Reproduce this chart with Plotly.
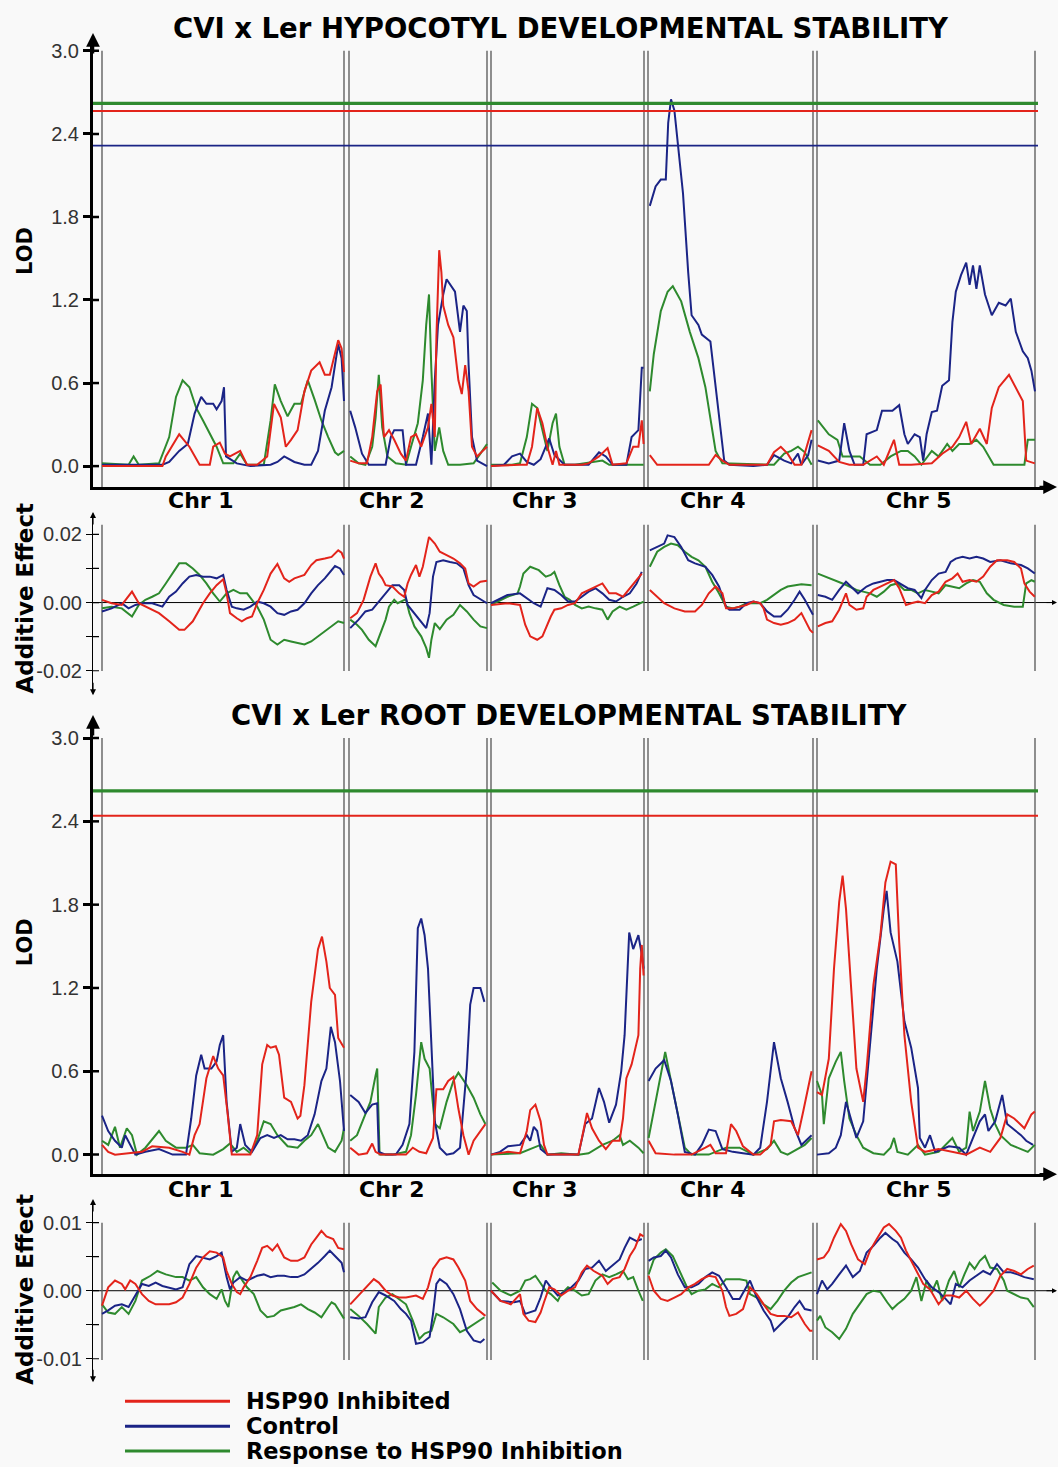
import plotly.graph_objects as go

W, H = 1058, 1467

# ---------------- chromosome map (cM along concatenated genome) ----------------
CHR_NAMES = ["Chr 1", "Chr 2", "Chr 3", "Chr 4", "Chr 5"]
CHR_START = [0.0, 123.5, 194.5, 273.0, 357.5]
CHR_END = [121.0, 192.5, 271.0, 355.5, 466.5]
CHR_LABEL_AT = [49.5, 145.0, 221.5, 305.5, 408.5]

SERIES_NAMES = ["HSP90 Inhibited", "Control", "Response to HSP90 Inhibition"]
COLORS = ["#e3241b", "#1b2486", "#2e8a2e"]

HYP_THRESHOLDS = [2.565, 2.315, 2.62]     # inhibited, control, response
ROOT_THRESHOLDS = [2.44, None, 2.62]

# ---------------- HYPOCOTYL LOD ----------------
HYP_LOD_INH = [
    [(0, 0.0), (30.2, 0.0), (31.9, 0.07), (38.6, 0.23), (43.7, 0.14), (48.8, 0.01), (53.9, 0.01), (55.6, 0.14),
     (58.9, 0.17), (61.5, 0.09), (64.0, 0.07), (69.1, 0.11), (72.5, 0.01), (77.6, 0.01), (82.6, 0.07), (86.0, 0.45),
     (89.4, 0.35), (91.9, 0.14), (94.5, 0.19), (97.8, 0.26), (101.2, 0.54), (104.6, 0.69), (108.8, 0.75),
     (111.4, 0.66), (113.9, 0.66), (116.5, 0.83), (118.1, 0.91), (119.8, 0.85), (121.0, 0.68)],
    [(124.1, 0.04), (128.3, 0.02), (132.5, 0.02), (135.1, 0.21), (137.6, 0.54), (139.3, 0.59), (141.0, 0.21),
     (143.5, 0.26), (146.1, 0.19), (149.4, 0.09), (152.0, 0.04), (154.5, 0.21), (157.0, 0.23), (159.6, 0.14),
     (163.0, 0.28), (164.7, 0.45), (166.4, 0.21), (167.2, 0.93), (168.6, 1.56), (169.7, 1.40), (170.6, 1.16),
     (173.1, 1.02), (175.7, 0.93), (178.2, 0.62), (179.9, 0.52), (181.6, 0.73), (183.3, 0.54), (185.0, 0.14),
     (187.5, 0.07), (192.5, 0.14)],
    [(194.5, 0.0), (205.0, 0.01), (209.0, 0.01), (212.4, 0.01), (215.0, 0.14), (217.6, 0.42), (220.2, 0.31),
     (222.7, 0.14), (225.3, 0.01), (227.0, 0.11), (228.7, 0.01), (240.0, 0.01), (243.3, 0.02), (248.5, 0.07),
     (252.8, 0.13), (255.3, 0.01), (262.2, 0.02), (265.6, 0.14), (268.2, 0.14), (269.9, 0.33), (270.8, 0.16)],
    [(273.9, 0.08), (277.6, 0.01), (294.8, 0.01), (303.4, 0.01), (306.8, 0.08), (310.2, 0.04), (313.7, 0.01),
     (332.5, 0.01), (336.0, 0.10), (339.4, 0.14), (342.8, 0.09), (346.3, 0.01), (349.7, 0.01), (353.1, 0.19),
     (354.8, 0.26)],
    [(357.9, 0.15), (363.4, 0.11), (368.6, 0.03), (373.7, 0.01), (380.6, 0.01), (387.4, 0.07), (390.9, 0.01),
     (396.0, 0.19), (398.6, 0.01), (404.6, 0.01), (414.9, 0.02), (420.1, 0.09), (425.2, 0.14), (428.6, 0.21),
     (432.1, 0.32), (434.6, 0.16), (438.9, 0.27), (442.4, 0.16), (444.9, 0.42), (448.4, 0.57), (453.5, 0.66),
     (456.9, 0.57), (460.4, 0.47), (462.1, 0.04), (466.4, 0.02)],
]
HYP_LOD_CTL = [
    [(0, 0.01), (30.2, 0.01), (33.6, 0.03), (38.6, 0.11), (42.9, 0.16), (46.3, 0.38), (49.6, 0.50), (52.2, 0.45),
     (55.6, 0.45), (57.3, 0.41), (59.8, 0.47), (61.0, 0.57), (62.0, 0.07), (67.4, 0.02), (74.2, 0.0), (84.3, 0.01),
     (87.7, 0.03), (91.1, 0.07), (96.2, 0.03), (101.2, 0.01), (104.6, 0.01), (108.0, 0.11), (111.4, 0.40),
     (114.8, 0.57), (116.5, 0.73), (118.1, 0.88), (119.8, 0.78), (121.0, 0.47)],
    [(124.1, 0.40), (126.6, 0.28), (130.0, 0.09), (133.4, 0.01), (141.8, 0.01), (144.4, 0.21), (146.1, 0.26),
     (150.3, 0.26), (152.0, 0.01), (157.0, 0.01), (160.4, 0.21), (163.0, 0.38), (164.7, 0.01), (166.4, 0.62),
     (168.0, 1.02), (170.6, 1.24), (172.3, 1.35), (176.5, 1.26), (179.0, 0.97), (180.7, 1.16), (182.4, 1.12),
     (183.3, 0.73), (185.0, 0.21), (187.5, 0.04), (192.5, 0.0)],
    [(194.5, 0.0), (201.0, 0.01), (205.0, 0.07), (209.0, 0.09), (212.4, 0.03), (215.9, 0.01), (219.3, 0.05),
     (223.6, 0.20), (226.2, 0.08), (231.3, 0.01), (243.3, 0.01), (248.5, 0.10), (251.9, 0.07), (255.3, 0.01),
     (262.2, 0.01), (264.8, 0.21), (268.2, 0.26), (269.9, 0.71), (270.8, 0.71)],
    [(273.9, 1.88), (276.8, 2.02), (279.4, 2.07), (281.9, 2.07), (283.1, 2.48), (284.5, 2.65), (286.2, 2.57),
     (287.9, 2.31), (290.5, 1.97), (293.1, 1.40), (294.8, 1.09), (298.2, 1.02), (299.9, 0.95), (304.2, 0.90),
     (305.9, 0.69), (308.5, 0.33), (311.1, 0.04), (313.7, 0.01), (325.7, 0.0), (332.5, 0.01), (336.0, 0.08),
     (341.1, 0.04), (344.6, 0.02), (348.0, 0.09), (349.7, 0.01), (353.1, 0.08), (354.8, 0.19)],
    [(357.9, 0.04), (363.4, 0.02), (368.6, 0.04), (371.1, 0.31), (373.7, 0.11), (376.3, 0.01), (380.6, 0.01),
     (382.3, 0.23), (387.4, 0.26), (390.0, 0.40), (395.2, 0.40), (398.6, 0.44), (401.2, 0.23), (402.9, 0.16),
     (406.3, 0.23), (408.9, 0.21), (410.6, 0.04), (412.3, 0.23), (414.9, 0.39), (417.5, 0.40), (420.1, 0.58),
     (423.5, 0.62), (425.2, 1.04), (426.9, 1.26), (429.5, 1.38), (432.1, 1.47), (433.8, 1.31), (435.5, 1.45),
     (437.2, 1.28), (438.9, 1.45), (441.5, 1.24), (444.9, 1.09), (448.4, 1.18), (451.8, 1.16), (454.4, 1.21),
     (456.9, 0.97), (460.4, 0.83), (462.9, 0.78), (464.7, 0.69), (466.5, 0.54)],
]
HYP_LOD_RESP = [
    [(0, 0.02), (13.3, 0.01), (15.8, 0.07), (18.4, 0.01), (28.5, 0.02), (33.6, 0.21), (37.0, 0.50), (40.3, 0.62),
     (43.7, 0.57), (47.1, 0.42), (50.5, 0.33), (53.9, 0.23), (57.3, 0.14), (60.6, 0.02), (65.7, 0.02), (69.1, 0.09),
     (72.5, 0.01), (80.9, 0.01), (84.3, 0.33), (86.4, 0.59), (89.4, 0.47), (92.8, 0.36), (96.2, 0.45), (99.5, 0.45),
     (102.9, 0.62), (106.3, 0.48), (109.7, 0.33), (113.1, 0.21), (116.5, 0.10), (118.1, 0.08), (121.0, 0.11)],
    [(124.1, 0.07), (128.3, 0.02), (131.7, 0.01), (135.1, 0.14), (136.8, 0.35), (138.4, 0.66), (140.1, 0.28),
     (142.7, 0.07), (146.9, 0.02), (152.0, 0.01), (154.5, 0.14), (157.9, 0.31), (160.4, 0.62), (162.1, 1.02),
     (163.5, 1.24), (164.7, 0.69), (166.4, 0.11), (168.6, 0.28), (170.6, 0.11), (173.1, 0.01), (179.0, 0.01),
     (185.8, 0.02), (189.2, 0.09), (192.5, 0.16)],
    [(194.5, 0.01), (205.0, 0.01), (209.0, 0.02), (212.4, 0.21), (215.0, 0.45), (217.6, 0.42), (220.2, 0.26),
     (222.7, 0.11), (225.3, 0.31), (227.0, 0.38), (228.7, 0.14), (231.3, 0.01), (236.5, 0.01), (250.2, 0.04),
     (253.6, 0.01), (270.8, 0.01)],
    [(273.9, 0.54), (275.9, 0.81), (279.4, 1.12), (282.8, 1.26), (285.4, 1.30), (289.6, 1.19), (293.9, 0.97),
     (298.2, 0.78), (301.7, 0.57), (304.2, 0.33), (306.8, 0.11), (310.2, 0.02), (329.1, 0.01), (336.0, 0.01),
     (341.1, 0.09), (344.6, 0.11), (348.0, 0.14), (351.4, 0.10), (354.8, 0.01)],
    [(357.9, 0.33), (363.4, 0.23), (367.7, 0.19), (370.3, 0.07), (375.4, 0.07), (378.9, 0.07), (384.0, 0.01),
     (389.2, 0.01), (394.3, 0.07), (399.5, 0.11), (402.9, 0.11), (406.3, 0.07), (409.7, 0.01), (414.9, 0.11),
     (418.3, 0.07), (422.6, 0.16), (425.2, 0.11), (428.6, 0.16), (433.8, 0.16), (437.2, 0.19), (440.6, 0.14),
     (445.8, 0.01), (452.6, 0.01), (461.2, 0.01), (462.9, 0.19), (466.5, 0.19)],
]

# ---------------- HYPOCOTYL ADDITIVE EFFECT ----------------
HYP_ADD_INH = [
    [(0, 0.0008), (4.8, -0.0002), (9.9, -0.0007), (15.0, 0.0032), (18.4, -0.0002), (23.4, -0.0017), (28.5, -0.0031),
     (33.6, -0.0055), (38.6, -0.0080), (41.2, -0.0080), (45.4, -0.0055), (50.5, -0.0002), (53.9, 0.0027),
     (57.3, 0.0051), (60.6, 0.0068), (62.3, 0.0027), (64.0, -0.0031), (67.4, -0.0046), (69.9, -0.0055),
     (72.5, -0.0046), (75.0, -0.0041), (77.6, -0.0002), (80.9, 0.0037), (84.3, 0.0085), (87.7, 0.0113),
     (91.1, 0.0071), (93.6, 0.0061), (96.2, 0.0071), (101.2, 0.0081), (104.6, 0.0110), (107.2, 0.0124),
     (111.4, 0.0129), (114.8, 0.0134), (118.1, 0.0153), (119.8, 0.0146), (121.0, 0.0129)],
    [(124.1, -0.0046), (127.5, -0.0031), (130.8, 0.0008), (134.2, 0.0076), (136.8, 0.0115), (138.4, 0.0085),
     (140.1, 0.0071), (141.8, 0.0051), (145.2, 0.0047), (148.6, 0.0027), (151.1, 0.0017), (152.8, 0.0056),
     (154.5, 0.0081), (157.0, 0.0110), (158.7, 0.0076), (160.4, 0.0105), (162.1, 0.0153), (163.5, 0.0192),
     (166.4, 0.0173), (168.9, 0.0149), (172.3, 0.0139), (175.7, 0.0129), (179.0, 0.0115), (181.6, 0.0100),
     (183.3, 0.0056), (185.8, 0.0047), (189.2, 0.0061), (192.5, 0.0064)],
    [(194.5, -0.0007), (202.7, -0.0002), (209.0, -0.0007), (211.6, -0.0065), (214.1, -0.0099), (217.6, -0.0109),
     (220.2, -0.0099), (221.9, -0.0075), (224.4, -0.0041), (226.2, -0.0021), (229.6, -0.0017), (233.0, -0.0007),
     (236.5, -0.0002), (239.9, 0.0027), (243.3, 0.0037), (246.7, 0.0047), (250.2, 0.0056), (253.6, 0.0027),
     (257.0, 0.0027), (260.5, 0.0017), (263.9, 0.0041), (267.3, 0.0066), (269.9, 0.0085)],
    [(273.9, 0.0037), (277.6, 0.0017), (281.1, -0.0002), (286.2, -0.0017), (291.4, -0.0026), (296.5, -0.0026),
     (299.9, -0.0007), (303.4, 0.0027), (306.8, 0.0047), (310.2, 0.0027), (312.0, -0.0017), (315.4, -0.0017),
     (318.8, -0.0012), (322.2, -0.0007), (325.7, 0.0003), (329.1, -0.0002), (330.8, -0.0017), (332.5, -0.0050),
     (336.0, -0.0060), (339.4, -0.0065), (342.8, -0.0060), (346.3, -0.0050), (349.7, -0.0031), (351.4, -0.0050),
     (354.0, -0.0080), (355.5, -0.0089)],
    [(357.9, -0.0070), (361.7, -0.0060), (365.1, -0.0055), (368.6, -0.0021), (372.0, 0.0027), (373.7, -0.0007),
     (377.2, -0.0021), (380.6, -0.0017), (382.3, 0.0017), (385.7, 0.0037), (389.2, 0.0047), (392.6, 0.0056),
     (396.0, 0.0066), (398.6, 0.0042), (402.0, -0.0007), (404.6, -0.0002), (408.0, 0.0003), (411.5, -0.0002),
     (414.9, 0.0022), (418.3, 0.0032), (421.8, 0.0061), (425.2, 0.0071), (427.8, 0.0085), (430.3, 0.0061),
     (433.8, 0.0066), (437.2, 0.0061), (440.6, 0.0076), (444.1, 0.0105), (447.5, 0.0124), (452.6, 0.0124),
     (456.1, 0.0119), (459.5, 0.0100), (461.2, 0.0056), (463.8, 0.0032), (466.4, 0.0017)],
]
HYP_ADD_CTL = [
    [(0, -0.0026), (4.8, -0.0017), (9.9, -0.0002), (13.3, -0.0017), (16.7, -0.0007), (20.0, -0.0002),
     (25.1, -0.0002), (30.2, -0.0012), (33.6, 0.0017), (37.0, 0.0032), (40.3, 0.0056), (43.7, 0.0076),
     (47.1, 0.0081), (50.5, 0.0076), (53.9, 0.0076), (57.3, 0.0071), (60.6, 0.0081), (62.3, 0.0037),
     (64.9, -0.0012), (67.4, -0.0017), (70.8, -0.0021), (74.2, -0.0012), (77.6, 0.0003), (80.9, -0.0002),
     (84.3, -0.0012), (87.7, -0.0031), (91.1, -0.0036), (94.5, -0.0026), (97.8, -0.0021), (101.2, -0.0002),
     (104.6, 0.0027), (108.0, 0.0051), (111.4, 0.0071), (114.8, 0.0095), (116.5, 0.0107), (119.0, 0.0100),
     (121.0, 0.0081)],
    [(124.1, -0.0075), (128.3, -0.0050), (131.7, -0.0026), (135.1, -0.0021), (138.4, 0.0003), (141.8, 0.0027),
     (145.2, 0.0051), (148.6, 0.0051), (151.1, 0.0037), (152.8, -0.0007), (155.4, -0.0026), (159.6, -0.0060),
     (162.1, -0.0075), (163.8, -0.0031), (165.5, 0.0076), (167.2, 0.0119), (170.6, 0.0124), (174.0, 0.0119),
     (177.4, 0.0115), (180.7, 0.0100), (183.3, 0.0051), (185.8, 0.0022), (189.2, 0.0010), (192.5, -0.0002)],
    [(194.5, -0.0002), (202.7, 0.0022), (209.0, 0.0027), (212.4, 0.0012), (215.9, -0.0002), (219.3, -0.0012),
     (222.7, 0.0042), (226.2, 0.0037), (229.6, 0.0022), (233.0, 0.0003), (236.5, 0.0003), (239.9, 0.0017),
     (243.3, 0.0032), (246.7, 0.0042), (250.2, 0.0027), (253.6, 0.0008), (257.0, 0.0003), (260.5, 0.0017),
     (263.9, 0.0027), (267.3, 0.0056), (269.9, 0.0090)],
    [(273.9, 0.0153), (277.6, 0.0163), (281.1, 0.0173), (282.8, 0.0197), (286.2, 0.0192), (289.6, 0.0163),
     (293.1, 0.0124), (296.5, 0.0115), (301.7, 0.0105), (305.1, 0.0081), (308.5, 0.0047), (312.0, -0.0012),
     (313.7, -0.0021), (318.8, -0.0021), (322.2, -0.0002), (325.7, 0.0003), (329.1, -0.0002), (332.5, -0.0026),
     (336.0, -0.0041), (339.4, -0.0041), (342.8, -0.0021), (346.3, 0.0008), (348.8, 0.0032), (351.4, 0.0008),
     (354.8, -0.0026), (355.5, -0.0036)],
    [(357.9, 0.0022), (361.7, 0.0017), (365.1, 0.0008), (368.6, 0.0037), (372.0, 0.0061), (374.6, 0.0047),
     (378.0, 0.0027), (382.3, 0.0047), (385.7, 0.0056), (389.2, 0.0061), (392.6, 0.0066), (396.0, 0.0066),
     (398.6, 0.0056), (402.9, 0.0042), (406.3, 0.0037), (409.7, 0.0013), (411.5, 0.0037), (414.9, 0.0066),
     (418.3, 0.0085), (421.8, 0.0090), (424.3, 0.0119), (426.9, 0.0129), (430.3, 0.0134), (433.8, 0.0129),
     (437.2, 0.0134), (440.6, 0.0129), (444.1, 0.0119), (449.2, 0.0124), (454.4, 0.0115), (459.5, 0.0110),
     (462.9, 0.0100), (466.4, 0.0085)],
]
HYP_ADD_RESP = [
    [(0, -0.0017), (4.8, -0.0012), (9.9, -0.0017), (15.0, -0.0041), (18.4, -0.0007), (21.7, 0.0008),
     (25.1, 0.0017), (28.5, 0.0027), (31.9, 0.0056), (35.3, 0.0085), (38.6, 0.0115), (42.0, 0.0115),
     (45.4, 0.0100), (48.8, 0.0081), (52.2, 0.0056), (55.6, 0.0027), (58.9, 0.0003), (62.3, 0.0027),
     (65.7, 0.0037), (69.1, 0.0027), (72.5, 0.0027), (75.0, 0.0008), (77.6, -0.0012), (80.9, -0.0050),
     (84.3, -0.0109), (87.7, -0.0123), (91.1, -0.0109), (94.5, -0.0114), (97.8, -0.0118), (101.2, -0.0123),
     (104.6, -0.0114), (108.0, -0.0099), (111.4, -0.0084), (114.8, -0.0070), (118.1, -0.0055), (121.0, -0.0060)],
    [(124.1, -0.0050), (127.5, -0.0065), (130.0, -0.0080), (133.4, -0.0109), (136.8, -0.0128), (139.3, -0.0089),
     (141.8, -0.0050), (143.5, -0.0012), (146.1, 0.0008), (147.8, -0.0002), (149.4, 0.0003), (152.0, 0.0010),
     (153.7, -0.0031), (156.2, -0.0070), (159.6, -0.0099), (162.1, -0.0133), (163.5, -0.0162), (164.7, -0.0109),
     (166.4, -0.0060), (168.9, -0.0078), (172.3, -0.0050), (175.7, -0.0036), (179.0, -0.0007), (182.4, -0.0026),
     (185.8, -0.0050), (189.2, -0.0070), (192.5, -0.0075)],
    [(194.5, -0.0007), (199.3, 0.0008), (202.7, 0.0017), (207.8, 0.0027), (209.0, 0.0047), (210.7, 0.0085),
     (214.1, 0.0105), (218.4, 0.0095), (221.9, 0.0076), (224.4, 0.0081), (226.2, 0.0090), (228.7, 0.0051),
     (231.3, 0.0017), (233.9, 0.0008), (236.5, -0.0007), (239.9, -0.0017), (243.3, -0.0012), (246.7, -0.0017),
     (250.2, -0.0021), (252.8, -0.0050), (255.3, -0.0026), (258.8, -0.0012), (262.2, -0.0021), (265.6, -0.0012),
     (270.8, 0.0003)],
    [(273.9, 0.0105), (277.6, 0.0149), (281.1, 0.0163), (284.5, 0.0173), (287.9, 0.0168), (291.4, 0.0149),
     (294.8, 0.0134), (298.2, 0.0124), (301.7, 0.0105), (305.1, 0.0061), (308.5, 0.0027), (312.0, -0.0012),
     (315.4, -0.0017), (318.8, -0.0012), (322.2, -0.0002), (325.7, -0.0002), (329.1, -0.0002), (332.5, 0.0008),
     (336.0, 0.0022), (339.4, 0.0037), (342.8, 0.0047), (346.3, 0.0051), (349.7, 0.0054), (354.8, 0.0051)],
    [(357.9, 0.0085), (361.7, 0.0076), (366.9, 0.0066), (370.3, 0.0056), (373.7, 0.0047), (377.2, 0.0037),
     (380.6, 0.0032), (384.0, 0.0027), (387.4, 0.0017), (390.9, 0.0032), (394.3, 0.0051), (397.7, 0.0056),
     (401.2, 0.0037), (404.6, 0.0037), (408.0, 0.0027), (411.5, 0.0037), (414.9, 0.0032), (418.3, 0.0027),
     (421.8, 0.0051), (425.2, 0.0047), (428.6, 0.0042), (432.1, 0.0056), (435.5, 0.0066), (438.9, 0.0061),
     (442.4, 0.0027), (445.8, 0.0008), (450.9, -0.0007), (456.1, -0.0012), (460.4, -0.0012), (462.1, 0.0056),
     (464.7, 0.0066), (466.4, 0.0061)],
]

# ---------------- ROOT LOD ----------------
ROOT_LOD_INH = [
    [(0, 0.07), (3.1, 0.02), (6.5, 0.0), (13.3, 0.01), (20.0, 0.02), (25.1, 0.06), (33.6, 0.05), (40.3, 0.02),
     (43.7, 0.0), (46.3, 0.14), (48.8, 0.22), (52.2, 0.55), (55.6, 0.71), (58.1, 0.62), (60.6, 0.57), (62.7, 0.31),
     (64.9, 0.0), (74.2, 0.0), (77.6, 0.14), (80.1, 0.65), (82.6, 0.79), (84.3, 0.77), (86.9, 0.78), (88.5, 0.72),
     (91.1, 0.41), (94.5, 0.38), (97.8, 0.26), (99.2, 0.28), (101.2, 0.50), (104.6, 1.10), (108.0, 1.48),
     (110.0, 1.57), (112.2, 1.39), (113.9, 1.20), (116.5, 1.15), (118.1, 0.84), (121.0, 0.77)],
    [(124.1, 0.05), (128.3, 0.0), (132.5, 0.01), (135.1, 0.08), (136.8, 0.02), (139.3, 0.0), (152.0, 0.0),
     (155.4, 0.05), (158.7, 0.02), (162.1, 0.01), (165.5, 0.12), (167.2, 0.47), (170.6, 0.47), (173.1, 0.53),
     (175.7, 0.56), (178.2, 0.33), (180.7, 0.14), (183.3, 0.0), (185.8, 0.10), (189.2, 0.17), (191.7, 0.22)],
    [(194.5, 0.0), (203.0, 0.02), (209.0, 0.01), (212.4, 0.17), (214.1, 0.32), (216.7, 0.36), (219.3, 0.24),
     (221.0, 0.07), (222.7, 0.0), (238.2, 0.0), (240.7, 0.17), (242.5, 0.30), (245.0, 0.19), (248.5, 0.10),
     (251.9, 0.04), (255.3, 0.10), (258.8, 0.10), (260.5, 0.26), (262.2, 0.55), (264.8, 0.65), (268.2, 0.86),
     (269.1, 1.34), (269.9, 1.51), (270.8, 1.29)],
    [(273.3, 0.10), (276.8, 0.01), (286.2, 0.0), (294.8, 0.0), (301.7, 0.05), (304.2, 0.07), (306.8, 0.01),
     (312.0, 0.01), (314.5, 0.22), (317.1, 0.17), (320.5, 0.06), (325.7, 0.0), (329.1, 0.0), (334.3, 0.07),
     (336.0, 0.24), (339.4, 0.25), (344.6, 0.24), (348.0, 0.14), (350.6, 0.31), (353.1, 0.48), (354.8, 0.60)],
    [(357.5, 0.45), (360.0, 0.43), (363.4, 0.69), (366.0, 1.34), (368.6, 1.82), (370.3, 2.01), (372.0, 1.77),
     (374.6, 1.20), (377.2, 0.62), (380.6, 0.38), (382.3, 0.62), (385.7, 1.22), (389.2, 1.58), (391.7, 1.96),
     (394.3, 2.11), (396.9, 2.09), (398.6, 1.53), (401.2, 0.86), (404.6, 0.38), (408.0, 0.05), (411.5, 0.02),
     (418.3, 0.04), (425.2, 0.02), (432.1, 0.0), (438.9, 0.05), (444.1, 0.02), (449.2, 0.12), (452.6, 0.29),
     (456.1, 0.26), (461.2, 0.19), (464.7, 0.29), (466.4, 0.31)],
]
ROOT_LOD_CTL = [
    [(0, 0.28), (3.1, 0.17), (6.5, 0.10), (9.9, 0.05), (11.6, 0.14), (14.1, 0.07), (16.7, 0.0), (21.7, 0.02),
     (28.5, 0.04), (35.3, 0.0), (42.0, 0.0), (44.6, 0.26), (47.1, 0.57), (49.6, 0.72), (51.3, 0.62), (54.7, 0.62),
     (57.3, 0.67), (58.9, 0.79), (60.6, 0.86), (62.3, 0.38), (64.9, 0.02), (67.4, 0.05), (69.1, 0.22), (71.6, 0.07),
     (75.0, 0.02), (79.2, 0.12), (82.6, 0.14), (86.0, 0.12), (89.4, 0.14), (92.8, 0.11), (96.2, 0.11), (99.5, 0.10),
     (102.9, 0.14), (106.3, 0.29), (109.7, 0.53), (112.2, 0.62), (114.4, 0.92), (116.5, 0.81), (119.0, 0.53),
     (121.0, 0.17)],
    [(124.1, 0.43), (128.3, 0.38), (131.7, 0.30), (135.1, 0.36), (137.6, 0.37), (138.4, 0.02), (141.8, 0.0),
     (146.9, 0.0), (150.3, 0.07), (153.7, 0.22), (156.2, 0.74), (157.9, 1.63), (159.6, 1.70), (161.3, 1.58),
     (163.0, 1.34), (164.7, 0.77), (166.4, 0.24), (168.9, 0.05), (172.3, 0.0), (175.7, 0.01), (179.0, 0.05),
     (182.4, 0.62), (184.1, 1.08), (185.8, 1.20), (189.2, 1.20), (191.2, 1.10)],
    [(194.5, 0.0), (199.0, 0.02), (203.0, 0.06), (209.0, 0.07), (212.4, 0.14), (214.1, 0.10), (215.9, 0.20),
     (217.6, 0.17), (219.3, 0.04), (222.7, 0.0), (238.2, 0.0), (241.6, 0.22), (245.0, 0.26), (248.5, 0.48),
     (251.0, 0.38), (253.6, 0.23), (257.0, 0.36), (259.6, 0.60), (261.3, 0.86), (263.6, 1.60), (265.6, 1.48),
     (268.2, 1.58), (269.9, 1.44), (270.8, 1.34)],
    [(273.3, 0.53), (276.8, 0.62), (281.1, 0.68), (284.5, 0.53), (287.9, 0.29), (291.4, 0.02), (296.5, 0.0),
     (299.9, 0.07), (303.4, 0.18), (306.8, 0.17), (310.2, 0.04), (315.4, 0.02), (320.5, 0.01), (325.7, 0.0),
     (329.1, 0.05), (332.5, 0.38), (336.0, 0.81), (339.4, 0.55), (342.8, 0.38), (346.3, 0.19), (349.7, 0.07),
     (353.1, 0.12), (354.8, 0.14)],
    [(357.5, 0.0), (363.4, 0.01), (366.9, 0.05), (369.4, 0.14), (372.0, 0.38), (374.6, 0.24), (377.2, 0.12),
     (380.6, 0.24), (384.0, 0.81), (387.4, 1.34), (390.9, 1.77), (392.3, 1.90), (394.3, 1.60), (397.7, 1.39),
     (401.2, 0.96), (404.6, 0.77), (408.0, 0.48), (408.9, 0.12), (411.5, 0.05), (414.0, 0.14), (416.6, 0.02),
     (423.5, 0.06), (428.6, 0.05), (432.1, 0.0), (435.5, 0.12), (438.9, 0.24), (441.5, 0.29), (443.2, 0.17),
     (446.6, 0.24), (450.1, 0.43), (452.6, 0.22), (456.1, 0.18), (459.5, 0.14), (462.1, 0.10), (465.5, 0.07)],
]
ROOT_LOD_RESP = [
    [(0, 0.10), (3.1, 0.07), (6.5, 0.20), (9.0, 0.05), (12.4, 0.19), (15.0, 0.14), (17.5, 0.0), (21.7, 0.05),
     (28.5, 0.17), (31.9, 0.10), (37.0, 0.05), (42.0, 0.05), (45.4, 0.07), (48.8, 0.01), (55.6, 0.0), (60.6, 0.04),
     (64.0, 0.08), (67.4, 0.02), (70.8, 0.05), (74.2, 0.01), (77.6, 0.10), (80.9, 0.24), (84.3, 0.22), (87.7, 0.14),
     (92.8, 0.06), (97.8, 0.05), (101.2, 0.10), (104.6, 0.14), (108.0, 0.22), (110.5, 0.14), (113.1, 0.05),
     (116.5, 0.02), (119.8, 0.10), (121.0, 0.19)],
    [(124.1, 0.10), (127.5, 0.14), (130.8, 0.26), (134.2, 0.38), (136.8, 0.57), (137.6, 0.62), (138.8, 0.0),
     (145.2, 0.0), (152.0, 0.02), (154.5, 0.14), (157.0, 0.43), (159.6, 0.81), (161.3, 0.69), (163.8, 0.62),
     (166.4, 0.22), (168.9, 0.19), (172.3, 0.38), (175.7, 0.53), (178.2, 0.59), (182.4, 0.50), (185.8, 0.41),
     (189.2, 0.29), (191.7, 0.22)],
    [(194.5, 0.0), (209.0, 0.01), (215.9, 0.05), (219.3, 0.07), (222.7, 0.0), (229.6, 0.01), (238.2, 0.0),
     (243.3, 0.01), (250.2, 0.07), (255.3, 0.10), (258.8, 0.14), (260.5, 0.07), (263.9, 0.10), (268.2, 0.05),
     (270.8, 0.01)],
    [(273.3, 0.12), (276.8, 0.38), (279.4, 0.57), (281.6, 0.74), (284.5, 0.53), (287.9, 0.29), (291.4, 0.05),
     (294.8, 0.0), (303.4, 0.0), (312.0, 0.05), (318.8, 0.05), (325.7, 0.0), (332.5, 0.04), (336.0, 0.10),
     (339.4, 0.02), (342.8, 0.0), (348.0, 0.04), (351.4, 0.07), (354.8, 0.12)],
    [(357.5, 0.53), (360.0, 0.43), (360.9, 0.22), (363.4, 0.55), (366.9, 0.67), (369.4, 0.74), (371.1, 0.53),
     (373.7, 0.26), (377.2, 0.14), (380.6, 0.05), (385.7, 0.01), (390.9, 0.0), (394.3, 0.05), (396.0, 0.12),
     (397.7, 0.02), (402.9, 0.0), (408.0, 0.07), (411.5, 0.0), (418.3, 0.02), (425.2, 0.12), (428.6, 0.02),
     (432.1, 0.05), (433.8, 0.31), (435.5, 0.17), (438.9, 0.31), (441.5, 0.53), (444.1, 0.33), (446.6, 0.22),
     (449.2, 0.14), (454.4, 0.07), (459.5, 0.04), (462.9, 0.02), (466.4, 0.07)],
]

# ---------------- ROOT ADDITIVE EFFECT ----------------
ROOT_ADD_INH = [
    [(0, -0.0022), (3.1, 0.0005), (6.5, 0.0015), (9.9, 0.0010), (11.6, 0.0002), (14.1, 0.0015), (16.7, 0.0010),
     (20.0, -0.0005), (23.4, -0.0015), (26.8, -0.0020), (30.2, -0.0020), (33.6, -0.0020), (37.0, -0.0017),
     (40.3, -0.0010), (43.7, 0.0010), (47.1, 0.0034), (50.5, 0.0049), (53.9, 0.0058), (57.3, 0.0056),
     (60.6, 0.0049), (62.3, 0.0029), (64.9, 0.0010), (67.4, -0.0002), (69.1, -0.0005), (70.8, 0.0005),
     (74.2, 0.0020), (77.6, 0.0044), (80.1, 0.0063), (82.6, 0.0066), (85.2, 0.0059), (87.7, 0.0068),
     (91.1, 0.0049), (94.5, 0.0044), (97.8, 0.0044), (101.2, 0.0049), (104.6, 0.0068), (107.2, 0.0078),
     (109.7, 0.0088), (112.2, 0.0080), (115.6, 0.0076), (118.1, 0.0063), (121.0, 0.0061)],
    [(124.1, -0.0020), (128.3, -0.0007), (132.5, 0.0005), (135.9, 0.0017), (138.4, 0.0012), (141.8, 0.0),
     (145.2, -0.0007), (148.6, -0.0010), (152.0, -0.0010), (157.0, -0.0007), (160.4, -0.0012), (163.0, 0.0005),
     (165.5, 0.0032), (168.9, 0.0046), (172.3, 0.0049), (175.7, 0.0046), (178.2, 0.0034), (181.6, 0.0015),
     (184.1, -0.0015), (187.5, -0.0027), (191.7, -0.0037)],
    [(194.5, 0.0), (199.3, -0.0015), (204.4, -0.0020), (209.0, -0.0005), (210.7, -0.0034), (213.3, -0.0044),
     (216.7, -0.0046), (219.3, -0.0032), (221.0, -0.0017), (223.6, 0.0005), (226.2, 0.0002), (229.6, -0.0007),
     (233.0, 0.0), (236.5, 0.0005), (239.9, 0.0027), (242.5, 0.0037), (245.9, 0.0029), (250.2, 0.0022),
     (252.8, 0.0010), (255.3, 0.0017), (258.8, 0.0020), (261.3, 0.0032), (263.9, 0.0051), (266.5, 0.0063),
     (269.1, 0.0083), (270.8, 0.0080)],
    [(273.3, 0.0022), (275.9, 0.0), (279.4, -0.0012), (282.8, -0.0015), (286.2, -0.0010), (289.6, -0.0005),
     (293.1, 0.0005), (296.5, 0.0010), (299.9, 0.0017), (303.4, 0.0022), (306.8, 0.0020), (310.2, 0.0),
     (312.0, -0.0024), (313.7, -0.0037), (317.1, -0.0034), (320.5, -0.0027), (324.0, 0.0005), (327.4, -0.0005),
     (330.8, -0.0020), (334.3, -0.0034), (337.7, -0.0037), (341.1, -0.0037), (344.6, -0.0039), (348.0, -0.0032),
     (351.4, -0.0049), (354.0, -0.0059), (355.2, -0.0059)],
    [(357.5, 0.0046), (360.9, 0.0049), (363.4, 0.0059), (366.0, 0.0078), (369.4, 0.0098), (372.0, 0.0088),
     (374.6, 0.0068), (378.0, 0.0046), (381.4, 0.0039), (384.0, 0.0059), (387.4, 0.0076), (390.9, 0.0093),
     (393.5, 0.0098), (396.9, 0.0088), (399.5, 0.0078), (402.0, 0.0059), (404.6, 0.0044), (407.2, 0.0029),
     (410.6, 0.0010), (414.0, 0.0002), (418.3, -0.0020), (421.8, -0.0007), (425.2, -0.0007), (428.6, -0.0010),
     (432.1, 0.0), (435.5, -0.0012), (438.9, -0.0022), (441.5, -0.0015), (445.8, 0.0), (449.2, 0.0022),
     (452.6, 0.0032), (456.1, 0.0029), (459.5, 0.0024), (462.9, 0.0032), (465.9, 0.0037)],
]
ROOT_ADD_CTL = [
    [(0, -0.0034), (3.1, -0.0029), (6.5, -0.0022), (9.9, -0.0020), (13.3, -0.0024), (16.7, -0.0007),
     (20.0, 0.0010), (23.4, 0.0007), (26.8, 0.0012), (30.2, 0.0007), (33.6, 0.0005), (37.0, 0.0002),
     (40.3, 0.0005), (43.7, 0.0039), (47.1, 0.0051), (50.5, 0.0049), (53.9, 0.0046), (57.3, 0.0051),
     (59.8, 0.0056), (62.3, 0.0020), (64.0, 0.0002), (65.7, 0.0012), (69.1, 0.0020), (72.5, 0.0015),
     (77.6, 0.0022), (80.9, 0.0024), (84.3, 0.0020), (87.7, 0.0022), (91.1, 0.0022), (94.5, 0.0020),
     (97.8, 0.0020), (101.2, 0.0024), (104.6, 0.0032), (108.0, 0.0041), (111.4, 0.0051), (113.9, 0.0059),
     (116.5, 0.0051), (119.8, 0.0041), (121.0, 0.0027)],
    [(124.1, -0.0039), (128.3, -0.0041), (131.7, -0.0039), (135.1, -0.0017), (138.4, -0.0002), (141.8, -0.0007),
     (146.1, -0.0015), (149.4, -0.0027), (152.0, -0.0034), (154.5, -0.0044), (157.0, -0.0078), (160.4, -0.0076),
     (163.8, -0.0068), (165.5, -0.0034), (167.2, 0.0010), (168.9, 0.0017), (172.3, 0.0010), (175.7, -0.0005),
     (179.0, -0.0027), (182.4, -0.0059), (185.8, -0.0073), (189.2, -0.0076), (191.2, -0.0071)],
    [(194.5, 0.0), (199.3, -0.0015), (206.1, -0.0017), (209.0, -0.0015), (211.6, -0.0034), (214.1, -0.0032),
     (216.7, -0.0029), (219.3, -0.0010), (221.9, 0.0015), (224.4, 0.0005), (227.9, -0.0007), (231.3, -0.0002),
     (234.7, 0.0005), (238.2, 0.0015), (241.6, 0.0032), (245.0, 0.0034), (248.5, 0.0044), (251.9, 0.0029),
     (255.3, 0.0037), (258.8, 0.0046), (261.3, 0.0063), (263.9, 0.0078), (267.3, 0.0073), (269.9, 0.0076)],
    [(273.3, 0.0044), (275.9, 0.0049), (279.4, 0.0051), (281.9, 0.0059), (284.5, 0.0049), (287.9, 0.0024),
     (291.4, 0.0005), (294.8, 0.0005), (298.2, 0.0010), (301.7, 0.0020), (305.1, 0.0027), (308.5, 0.0022),
     (312.0, 0.0005), (315.4, -0.0012), (318.8, -0.0012), (322.2, 0.0005), (324.0, 0.0015), (327.4, -0.0010),
     (330.8, -0.0029), (334.3, -0.0044), (336.0, -0.0059), (339.4, -0.0049), (342.8, -0.0039), (346.3, -0.0024),
     (348.8, -0.0015), (351.4, -0.0027), (354.8, -0.0029)],
    [(357.5, -0.0005), (360.0, 0.0015), (362.6, 0.0002), (365.1, 0.0010), (368.6, 0.0024), (372.0, 0.0037),
     (375.4, 0.0020), (378.9, 0.0029), (382.3, 0.0056), (385.7, 0.0066), (389.2, 0.0078), (391.7, 0.0085),
     (395.2, 0.0076), (397.7, 0.0071), (401.2, 0.0056), (404.6, 0.0046), (408.0, 0.0034), (411.5, 0.0017),
     (414.9, 0.0005), (418.3, -0.0002), (421.8, -0.0012), (424.3, -0.0020), (426.9, 0.0010), (430.3, 0.0005),
     (433.8, 0.0015), (437.2, 0.0022), (440.6, 0.0029), (444.1, 0.0024), (447.5, 0.0039), (450.9, 0.0027),
     (454.4, 0.0027), (457.8, 0.0024), (461.2, 0.0020), (465.9, 0.0017)],
]
ROOT_ADD_RESP = [
    [(0, -0.0020), (3.1, -0.0032), (6.5, -0.0034), (9.9, -0.0024), (13.3, -0.0034), (16.7, -0.0015),
     (20.0, 0.0015), (24.3, 0.0022), (27.7, 0.0029), (31.9, 0.0024), (37.0, 0.0020), (40.3, 0.0020),
     (43.7, 0.0015), (47.1, 0.0020), (50.5, 0.0005), (53.9, -0.0005), (57.3, -0.0012), (59.8, 0.0002),
     (61.5, -0.0015), (63.2, -0.0024), (65.7, 0.0020), (67.4, 0.0029), (69.1, 0.0020), (72.5, 0.0005),
     (75.9, -0.0005), (79.2, -0.0029), (82.6, -0.0039), (86.0, -0.0037), (89.4, -0.0029), (92.8, -0.0027),
     (96.2, -0.0024), (99.5, -0.0020), (102.9, -0.0027), (106.3, -0.0032), (109.7, -0.0039), (113.1, -0.0024),
     (114.8, -0.0017), (116.5, -0.0020), (119.0, -0.0032), (121.0, -0.0041)],
    [(124.1, -0.0027), (128.3, -0.0037), (132.5, -0.0049), (136.8, -0.0063), (138.4, -0.0024), (141.8, -0.0010),
     (145.2, -0.0005), (148.6, -0.0012), (152.0, -0.0020), (155.4, -0.0044), (158.7, -0.0071), (161.3, -0.0063),
     (164.7, -0.0059), (167.2, -0.0034), (170.6, -0.0039), (175.7, -0.0049), (179.0, -0.0061), (182.4, -0.0056),
     (187.5, -0.0046), (191.2, -0.0039)],
    [(195.1, 0.0012), (199.3, 0.0), (204.4, -0.0007), (209.0, 0.0), (211.6, 0.0015), (214.1, 0.0017),
     (216.7, 0.0022), (219.3, 0.0010), (221.9, 0.0), (224.4, -0.0005), (227.9, -0.0015), (229.6, -0.0005),
     (233.0, 0.0005), (236.5, 0.0), (239.9, -0.0007), (243.3, -0.0005), (246.7, 0.0015), (250.2, 0.0024),
     (253.6, 0.0020), (257.0, 0.0024), (260.5, 0.0029), (263.0, 0.0017), (265.6, 0.0020), (268.2, 0.0),
     (270.4, -0.0015)],
    [(273.3, 0.0024), (275.9, 0.0046), (279.4, 0.0056), (281.9, 0.0061), (285.4, 0.0051), (288.8, 0.0029),
     (292.2, 0.0007), (294.8, -0.0005), (298.2, 0.0), (301.7, 0.0002), (305.1, 0.0010), (308.5, 0.0005),
     (312.0, 0.0017), (315.4, 0.0017), (318.8, 0.0017), (322.2, 0.0015), (324.0, -0.0005), (327.4, -0.0010),
     (330.8, -0.0020), (334.3, -0.0027), (337.7, -0.0015), (341.1, 0.0), (344.6, 0.0012), (348.0, 0.0020),
     (351.4, 0.0024), (354.8, 0.0027)],
    [(357.5, -0.0044), (359.1, -0.0037), (361.7, -0.0054), (365.1, -0.0061), (368.6, -0.0071), (372.0, -0.0056),
     (375.4, -0.0034), (378.9, -0.0020), (382.3, -0.0005), (385.7, 0.0), (389.2, -0.0002), (392.6, -0.0017),
     (395.2, -0.0027), (397.7, -0.0020), (401.2, -0.0012), (404.6, 0.0), (407.2, 0.0020), (409.7, -0.0015),
     (412.3, 0.0015), (414.9, -0.0002), (417.5, 0.0015), (420.1, -0.0015), (423.5, 0.0015), (426.1, 0.0029),
     (428.6, 0.0005), (431.2, 0.0024), (433.8, 0.0041), (436.3, 0.0032), (438.9, 0.0044), (441.5, 0.0051),
     (444.1, 0.0034), (447.5, 0.0032), (450.9, 0.0015), (452.6, 0.0), (456.1, -0.0005), (459.5, -0.0010),
     (462.9, -0.0012), (465.9, -0.0024)],
]

# ---------------- layout helpers ----------------
def fx(px):
    return px / W


def fy(py):
    return 1 - py / H


X_DOMAIN = [fx(93), fx(1050)]
X_RANGE = [-4.5, 474]

PANELS = [
    dict(bot=483, top=40, rng=[-0.151, 3.036], kind="lod"),
    dict(bot=690, top=510, rng=[-0.02657, 0.02599], kind="add"),
    dict(bot=1173, top=725, rng=[-0.141, 3.072], kind="lod"),
    dict(bot=1380, top=1200, rng=[-0.01318, 0.01318], kind="add"),
]

PANEL_SERIES = [
    [HYP_LOD_INH, HYP_LOD_CTL, HYP_LOD_RESP],
    [HYP_ADD_INH, HYP_ADD_CTL, HYP_ADD_RESP],
    [ROOT_LOD_INH, ROOT_LOD_CTL, ROOT_LOD_RESP],
    [ROOT_ADD_INH, ROOT_ADD_CTL, ROOT_ADD_RESP],
]


def flatten(segs):
    xs, ys = [], []
    for seg in segs:
        for x, y in seg:
            xs.append(x)
            ys.append(y)
        xs.append(None)
        ys.append(None)
    return xs, ys


fig = go.Figure()
FONT = "Liberation Sans, Arial, sans-serif"
BOLD = "DejaVu Sans, Arial Black, sans-serif"

for p_i, series in enumerate(PANEL_SERIES):
    ax_sfx = "" if p_i == 0 else str(p_i + 1)
    for s_i in [2, 1, 0]:
        xs, ys = flatten(series[s_i])
        fig.add_trace(go.Scatter(
            x=xs, y=ys, mode="lines", name=SERIES_NAMES[s_i],
            line=dict(color=COLORS[s_i], width=2),
            xaxis="x" + ax_sfx, yaxis="y" + ax_sfx, showlegend=False,
            connectgaps=False, hoverinfo="skip"))

layout = dict(
    width=W, height=H, margin=dict(l=0, r=0, t=0, b=0),
    paper_bgcolor="#f9f9f9", plot_bgcolor="#f9f9f9", showlegend=False,
)

shapes = []
annotations = []

for p_i, P in enumerate(PANELS):
    sfx = "" if p_i == 0 else str(p_i + 1)
    xa = "xaxis" + sfx
    ya = "yaxis" + sfx
    is_lod = P["kind"] == "lod"
    layout[xa] = dict(domain=X_DOMAIN, range=X_RANGE, anchor="y" + sfx,
                      showgrid=False, zeroline=False, showticklabels=False, ticks="",
                      showline=is_lod, linecolor="black", linewidth=3, fixedrange=True)
    if is_lod:
        tv = [0.0, 0.6, 1.2, 1.8, 2.4, 3.0]
        tt = ["%.1f" % v for v in tv]
    elif p_i == 1:
        tv = [-0.02, -0.01, 0.0, 0.01, 0.02]
        tt = ["-0.02", "", "0.00", "", "0.02"]
    else:
        tv = [-0.01, -0.005, 0.0, 0.005, 0.01]
        tt = ["-0.01", "", "0.00", "", "0.01"]
    layout[ya] = dict(domain=[fy(P["bot"]), fy(P["top"])], range=P["rng"], anchor="x" + sfx,
                      showgrid=False, zeroline=False, showline=True, linecolor="black",
                      linewidth=3 if is_lod else 1.2,
                      ticks="outside", ticklen=7 if is_lod else 6, tickwidth=2.5 if is_lod else 1.2,
                      tickcolor="black", tickvals=tv, ticktext=tt,
                      tickfont=dict(family=FONT, size=20, color="#333333"), fixedrange=True)

    # small tick stubs on the inner side of the axis (ticks cross the axis in the original)
    for v in tv:
        shapes.append(dict(type="line", xref="paper", yref="y" + sfx, x0=fx(93), x1=fx(99), y0=v, y1=v,
                           line=dict(color="black", width=2.5 if is_lod else 1.2)))

    # chromosome boundary lines
    if is_lod:
        y0, y1 = P["rng"][0], 3.0
    elif p_i == 1:
        y0, y1 = -0.0201, 0.0228
    else:
        y0, y1 = -0.0102, 0.0100
    for xs_ in CHR_START + CHR_END:
        shapes.append(dict(type="line", xref="x" + sfx, yref="y" + sfx, x0=xs_, x1=xs_, y0=y0, y1=y1,
                           line=dict(color="#555555", width=1.3), layer="below"))

    # axis arrows
    if is_lod:
        annotations.append(dict(xref="paper", yref="paper", x=fx(93), y=fy(P["top"] - 13), ax=0, ay=22,
                                showarrow=True, arrowhead=2, arrowsize=1.1, arrowwidth=2.5, arrowcolor="black",
                                text=""))
        annotations.append(dict(xref="paper", yref="paper", x=fx(1058), y=fy(P["bot"]), ax=-20, ay=0,
                                showarrow=True, arrowhead=2, arrowsize=1.1, arrowwidth=2.5, arrowcolor="black",
                                text=""))
    else:
        shapes.append(dict(type="line", xref="paper", yref="y" + sfx, x0=fx(93), x1=fx(1052), y0=0, y1=0,
                           line=dict(color="black", width=1), layer="below"))
        annotations.append(dict(xref="paper", yref="y" + sfx, x=fx(1057), y=0, ax=-12, ay=0,
                                showarrow=True, arrowhead=2, arrowsize=1, arrowwidth=1, arrowcolor="black",
                                text=""))
        for yy, ay in [(P["top"] - 2, 14), (P["bot"] + 2, -14)]:
            annotations.append(dict(xref="paper", yref="paper", x=fx(93), y=fy(yy), ax=0, ay=ay,
                                    showarrow=True, arrowhead=2, arrowsize=1, arrowwidth=1.2,
                                    arrowcolor="black", text=""))

# significance thresholds
for p_i, thr in [(0, HYP_THRESHOLDS), (2, ROOT_THRESHOLDS)]:
    sfx = "" if p_i == 0 else str(p_i + 1)
    widths = [2, 1.6, 3.2]
    for s_i in [1, 0, 2]:
        if thr[s_i] is None:
            continue
        shapes.append(dict(type="line", xref="x" + sfx, yref="y" + sfx, x0=X_RANGE[0], x1=468,
                           y0=thr[s_i], y1=thr[s_i], line=dict(color=COLORS[s_i], width=widths[s_i])))

# titles
annotations.append(dict(xref="paper", yref="paper", x=fx(561), y=fy(22),
                        text="<b>CVI x Ler HYPOCOTYL DEVELOPMENTAL STABILITY</b>",
                        showarrow=False, font=dict(family=BOLD, size=27.5, color="black"),
                        xanchor="center", yanchor="middle"))
annotations.append(dict(xref="paper", yref="paper", x=fx(569), y=fy(712),
                        text="<b>CVI x Ler ROOT DEVELOPMENTAL STABILITY</b>",
                        showarrow=False, font=dict(family=BOLD, size=27.5, color="black"),
                        xanchor="center", yanchor="middle"))

# chromosome labels
for sfx, py in [("", 497), ("3", 1188)]:
    for name, xc in zip(CHR_NAMES, CHR_LABEL_AT):
        annotations.append(dict(xref="x" + sfx, yref="paper", x=xc, y=fy(py), text="<b>%s</b>" % name,
                                showarrow=False, font=dict(family=BOLD, size=22, color="black"),
                                xanchor="center", yanchor="middle"))

# y-axis titles
for text, py, sz in [("LOD", 246, 21), ("Additive Effect", 595, 23), ("LOD", 940, 21), ("Additive Effect", 1289, 23)]:
    annotations.append(dict(xref="paper", yref="paper", x=fx(25), y=fy(py), text="<b>%s</b>" % text,
                            textangle=-90, showarrow=False, font=dict(family=BOLD, size=sz, color="black"),
                            xanchor="center", yanchor="middle"))

# legend
for s_i, py in enumerate([1401, 1426, 1451]):
    shapes.append(dict(type="line", xref="paper", yref="paper", x0=fx(125), x1=fx(230), y0=fy(py), y1=fy(py),
                       line=dict(color=COLORS[s_i], width=3)))
    annotations.append(dict(xref="paper", yref="paper", x=fx(244), y=fy(py), text="<b>%s</b>" % SERIES_NAMES[s_i],
                            showarrow=False, font=dict(family=BOLD, size=22.5, color="black"),
                            xanchor="left", yanchor="middle"))

layout["shapes"] = shapes
layout["annotations"] = annotations
fig.update_layout(**layout)
fig.write_html("out.html")
